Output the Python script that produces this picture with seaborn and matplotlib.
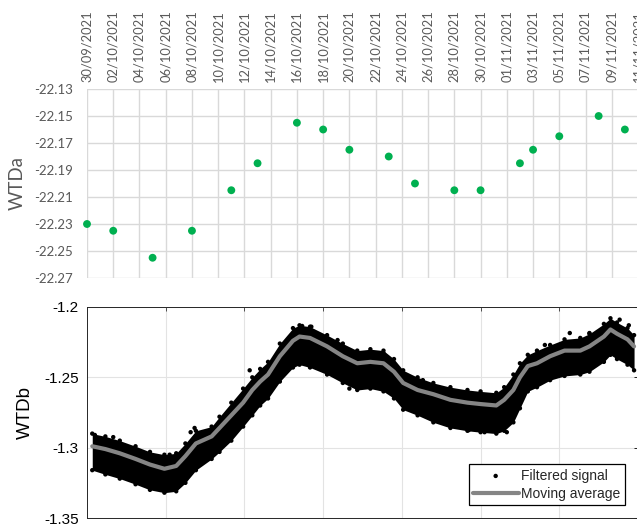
import numpy as np
import pandas as pd
import matplotlib
matplotlib.use('Agg')
import matplotlib.pyplot as plt
import matplotlib.dates as mdates
import seaborn as sns

'''Data read off the reference'''
# WTDa manual readings (top panel)
wtda_dates = ['2021-09-30', '2021-10-02', '2021-10-05', '2021-10-08', '2021-10-11',
              '2021-10-13', '2021-10-16', '2021-10-18', '2021-10-20', '2021-10-23',
              '2021-10-25', '2021-10-28', '2021-10-30', '2021-11-02', '2021-11-03',
              '2021-11-05', '2021-11-08', '2021-11-10']
wtda_values = [-22.230, -22.235, -22.255, -22.235, -22.205,
               -22.185, -22.155, -22.160, -22.175, -22.180,
               -22.200, -22.205, -22.205, -22.185, -22.175,
               -22.165, -22.150, -22.160]
wtda_ticks = [-22.27, -22.25, -22.23, -22.21, -22.19, -22.17, -22.15, -22.13]

# WTDb logger (bottom panel), days since 30/09/2021 00:00
wtdb_days = [0.4, 1.4, 2.5, 3.7, 4.8, 5.9, 6.8, 7.5, 8.3, 9.5,
             10.1, 11.0, 11.9, 12.6, 13.2, 13.8, 14.7, 15.7, 16.2, 17.0,
             18.3, 19.5, 20.6, 21.6, 22.6, 23.4, 24.1, 25.2, 26.4, 27.7,
             29.0, 30.0, 31.2, 31.8, 32.5, 33.0, 33.6, 34.3, 35.3, 36.4,
             37.6, 38.3, 39.4, 39.9, 40.4, 41.2, 41.7]
# moving average
wtdb_mavg = [-1.299, -1.301, -1.304, -1.308, -1.312, -1.315, -1.313, -1.306, -1.297, -1.292,
             -1.286, -1.277, -1.268, -1.259, -1.253, -1.248, -1.235, -1.224, -1.221, -1.222,
             -1.228, -1.235, -1.240, -1.239, -1.240, -1.246, -1.254, -1.259, -1.262, -1.266,
             -1.268, -1.269, -1.270, -1.266, -1.259, -1.250, -1.242, -1.240, -1.235, -1.231,
             -1.231, -1.228, -1.221, -1.216, -1.219, -1.223, -1.228]
# upper / lower edge of the filtered signal cloud
wtdb_upper = [-1.290, -1.292, -1.295, -1.299, -1.303, -1.305, -1.304, -1.297, -1.288, -1.285,
              -1.278, -1.268, -1.258, -1.250, -1.244, -1.239, -1.226, -1.215, -1.213, -1.214,
              -1.220, -1.226, -1.231, -1.230, -1.231, -1.237, -1.245, -1.250, -1.254, -1.257,
              -1.259, -1.260, -1.261, -1.257, -1.248, -1.240, -1.234, -1.231, -1.227, -1.223,
              -1.222, -1.219, -1.212, -1.208, -1.211, -1.215, -1.220]
wtdb_lower = [-1.316, -1.319, -1.322, -1.326, -1.330, -1.332, -1.331, -1.325, -1.316, -1.308,
              -1.303, -1.295, -1.285, -1.277, -1.270, -1.265, -1.253, -1.243, -1.241, -1.243,
              -1.248, -1.254, -1.259, -1.258, -1.260, -1.265, -1.273, -1.277, -1.282, -1.286,
              -1.288, -1.289, -1.290, -1.288, -1.282, -1.272, -1.260, -1.257, -1.252, -1.249,
              -1.248, -1.246, -1.239, -1.234, -1.237, -1.241, -1.245]
# isolated samples sticking out of the cloud
outlier_days = [0.6, 2.0, 6.3, 7.9, 8.2, 12.4, 16.4, 17.1, 17.4, 19.1,
                20.0, 21.3, 22.6, 25.6, 29.1, 30.3, 32.0, 34.9, 36.8, 38.3,
                40.6, 41.3]
outlier_values = [-1.291, -1.2925, -1.305, -1.289, -1.286, -1.245, -1.2135, -1.214, -1.241, -1.2235,
                  -1.258, -1.233, -1.233, -1.252, -1.2875, -1.289, -1.289, -1.227, -1.2185, -1.2185,
                  -1.209, -1.213]
wtdb_ticks = [-1.35, -1.3, -1.25, -1.2]
wtdb_tick_labels = ['-1.35', '-1.3', '-1.25', '-1.2']

start = pd.Timestamp('2021-09-30')
end = pd.Timestamp('2021-11-11')

sns.set_style('white')
plt.rcParams['font.family'] = ['Liberation Sans', 'DejaVu Sans']

fig = plt.figure(figsize=(6.37, 5.24), dpi=100)
W, H = 637.0, 524.0
ax1 = fig.add_axes([87 / W, 1 - 278 / H, 551 / W, 189 / H])
ax2 = fig.add_axes([87 / W, 1 - 518 / H, 551 / W, 211 / H])

'''TOP PANEL (WTDa)'''
grey_txt = '#595959'
df_a = pd.DataFrame({'date': pd.to_datetime(wtda_dates), 'WTDa': wtda_values})
sns.scatterplot(data=df_a, x='date', y='WTDa', ax=ax1, color='#00b050', s=32,
                edgecolor='none', zorder=3, clip_on=False)
ax1.set_xlim(start, end)
ax1.set_ylim(-22.27, -22.13)
ax1.set_xticks(pd.date_range(start, end, freq='2D'))
ax1.xaxis.set_major_formatter(mdates.DateFormatter('%d/%m/%Y'))
ax1.set_yticks(wtda_ticks)
ax1.set_yticklabels([f'{v:.2f}' for v in wtda_ticks])
ax1.xaxis.tick_top()
ax1.tick_params(axis='x', top=True, labeltop=True, bottom=False, labelbottom=False,
                length=0, pad=5, labelrotation=90, labelsize=9.3, colors=grey_txt)
ax1.tick_params(axis='y', length=0, pad=10, labelsize=9.5, colors=grey_txt)
for lab in ax1.get_xticklabels() + ax1.get_yticklabels():
    lab.set_fontfamily('Lato')
ax1.grid(True, color='#d9d9d9', lw=1)
for sp in ax1.spines.values():
    sp.set_visible(False)
ax1.set_xlabel('')
ax1.set_ylabel('WTDa', fontsize=13.5, color=grey_txt, fontfamily='Lato', labelpad=6)

'''BOTTOM PANEL (WTDb)'''
df_b = pd.DataFrame({'date': start + pd.to_timedelta(wtdb_days, unit='D'),
                     'mavg': wtdb_mavg, 'upper': wtdb_upper, 'lower': wtdb_lower})
ax2.fill_between(df_b['date'], df_b['lower'], df_b['upper'], color='black', lw=0, zorder=2)
df_out = pd.DataFrame({'date': start + pd.to_timedelta(outlier_days, unit='D'),
                       'WTDb': outlier_values})
sig = pd.concat([df_b[['date', 'upper']].rename(columns={'upper': 'WTDb'}),
                 df_b[['date', 'lower']].rename(columns={'lower': 'WTDb'}),
                 df_out])
sns.scatterplot(data=sig, x='date', y='WTDb', ax=ax2, color='black', s=10,
                edgecolor='none', label='Filtered signal', zorder=2)
sns.lineplot(data=df_b, x='date', y='mavg', ax=ax2, color='#858585', lw=3,
             label='Moving average', zorder=3, sort=False, estimator=None)
ax2.set_xlim(start, end)
ax2.set_ylim(-1.35, -1.2)
ax2.set_xticks(pd.date_range('2021-10-06', end, freq='6D'))
ax2.set_yticks(wtdb_ticks)
ax2.set_yticklabels(wtdb_tick_labels)
ax2.tick_params(axis='both', direction='in', length=3, width=0.6, color='#333333',
                top=True, right=True, labelbottom=False)
ax2.tick_params(axis='y', labelsize=11, pad=6, colors='black')
ax2.grid(True, color='#e3e3e3', lw=0.8)
for sp in ax2.spines.values():
    sp.set_color('#262626')
    sp.set_linewidth(0.7)
ax2.set_xlabel('')
ax2.set_ylabel('WTDb', fontsize=13.5, color='black', labelpad=7)

handles, labels = ax2.get_legend_handles_labels()
leg = ax2.legend(handles, labels, loc='lower right', bbox_to_anchor=(0.976, 0.062),
                 fontsize=10, frameon=True, fancybox=False, framealpha=1,
                 edgecolor='black', borderpad=0.3, handlelength=3.3,
                 handletextpad=0.2, labelspacing=0.3, borderaxespad=0)
leg.get_frame().set_linewidth(0.9)

fig.savefig('out.png', dpi=100)
